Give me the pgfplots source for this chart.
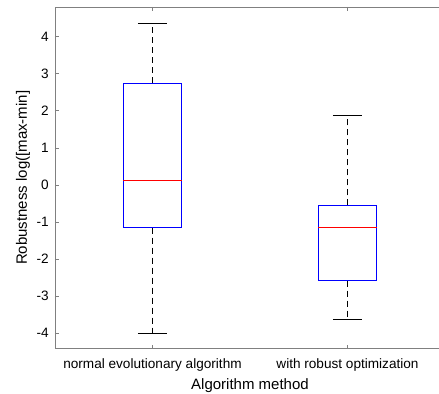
\documentclass[border=0pt]{standalone}
\usepackage{fontspec}
\setmainfont{Liberation Sans}
\usepackage{pgfplots}
\pgfplotsset{compat=1.18}
\definecolor{axgray}{RGB}{128,128,128}
\definecolor{mblue}{RGB}{0,0,255}
\definecolor{mred}{RGB}{255,0,0}
\begin{document}
\begin{tikzpicture}
\begin{axis}[
  at={(0,0)}, anchor=south west,
  scale only axis, width=390bp, height=341.7bp,
  xmin=0.5, xmax=2.5, ymin=-4.42, ymax=4.8,
  xtick={1,2},
  xticklabels={normal evolutionary algorithm, with robust optimization},
  ytick={-4,-3,-2,-1,0,1,2,3,4},
  yticklabels={-4,-3,-2,-1,0,1,2,3,4},
  tick align=inside, tick pos=both, major tick length=4bp,
  axis line style={axgray, line width=0.6bp},
  every tick/.style={axgray, line width=0.6bp},
  tick label style={font=\fontsize{13.6bp}{15bp}\selectfont},
  xticklabel style={anchor=center, yshift=-16.3bp},
  yticklabel style={anchor=east, inner sep=0pt, xshift=-6bp},
  xlabel={Algorithm method},
  ylabel={Robustness log([max-min]},
  every axis x label/.style={at={(axis description cs:0.5,0)}, yshift=-37.3bp, anchor=center,
    font=\fontsize{15bp}{17bp}\selectfont},
  every axis y label/.style={at={(axis description cs:0,0.5)}, xshift=-32bp, rotate=90, anchor=center,
    font=\fontsize{15bp}{17bp}\selectfont},
  whisk/.style={draw=black, line width=0.6bp, dash pattern=on 6bp off 4bp},
  cap/.style={draw=black, line width=0.6bp, solid},
  bx/.style={draw=mblue, color=mblue, line width=0.75bp, solid},
  med/.style={draw=mred, line width=0.75bp, solid},
]
% whiskers
\addplot[whisk] coordinates {(1,2.75) (1,4.36)};
\addplot[whisk] coordinates {(1,-1.15) (1,-4.01)};
\addplot[whisk] coordinates {(2,-0.55) (2,1.89)};
\addplot[whisk] coordinates {(2,-2.58) (2,-3.64)};
% caps
\addplot[cap] coordinates {(0.925,4.36) (1.075,4.36)};
\addplot[cap] coordinates {(0.925,-4.01) (1.075,-4.01)};
\addplot[cap] coordinates {(1.925,1.89) (2.075,1.89)};
\addplot[cap] coordinates {(1.925,-3.64) (2.075,-3.64)};
% boxes (Q1 to Q3)
\addplot[bx] coordinates {(0.85,-1.15) (1.15,-1.15) (1.15,2.75) (0.85,2.75) (0.85,-1.15)};
\addplot[bx] coordinates {(1.85,-2.58) (2.15,-2.58) (2.15,-0.55) (1.85,-0.55) (1.85,-2.58)};
\addplot[bx] coordinates {(0.85,-1.15) (1.15,-1.15) (1.15,2.75) (0.85,2.75) (0.85,-1.15)};
% medians
\addplot[med] coordinates {(0.85,0.11) (1.15,0.11)};
\addplot[med] coordinates {(1.85,-1.15) (2.15,-1.15)};
\end{axis}
\pgfresetboundingbox
\useasboundingbox (-55bp,-45.3bp) rectangle (384bp,348.7bp);
\end{tikzpicture}
\end{document}
